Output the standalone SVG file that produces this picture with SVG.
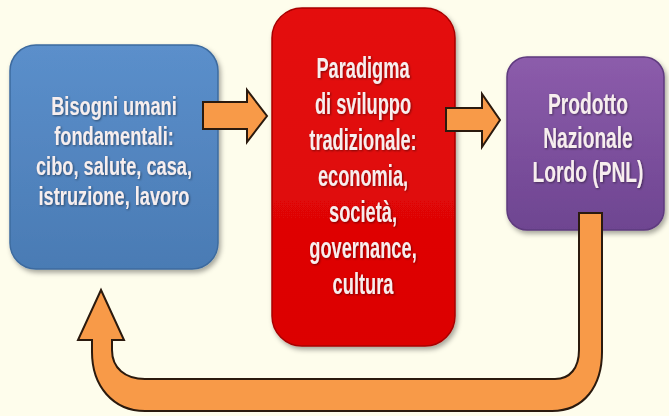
<svg xmlns="http://www.w3.org/2000/svg" width="669" height="416" viewBox="0 0 669 416">
<defs>
<style>
.t{font-family:"Liberation Sans",Arial,sans-serif;font-weight:bold;font-size:24px;text-anchor:middle;fill:#f7eeee}
.arr{fill:#f89a48;stroke:#2b1a0e;stroke-width:2;stroke-linejoin:miter}
</style>
<linearGradient id="gBlue" x1="0" y1="0" x2="0" y2="1"><stop offset="0" stop-color="#5b8fcb"/><stop offset="1" stop-color="#4a7bb4"/></linearGradient>
<linearGradient id="gRed" x1="0" y1="0" x2="0" y2="1"><stop offset="0" stop-color="#e41010"/><stop offset="1" stop-color="#dc0000"/></linearGradient>
<linearGradient id="gPur" x1="0" y1="0" x2="0" y2="1"><stop offset="0" stop-color="#8c5cab"/><stop offset="1" stop-color="#6e4591"/></linearGradient>
<filter id="sh" x="-10%" y="-10%" width="125%" height="125%"><feDropShadow dx="2" dy="3" stdDeviation="2.5" flood-color="#000" flood-opacity="0.35"/></filter>
<filter id="ts" x="-5%" y="-20%" width="110%" height="150%"><feDropShadow dx="1" dy="1" stdDeviation="0.8" flood-color="#000" flood-opacity="0.45"/></filter>
</defs>
<rect width="669" height="416" fill="#fefdec"/>
<g id="node-bisogni">
<rect x="10" y="45" width="208" height="224" rx="26" fill="url(#gBlue)" stroke="#3d6b9f" stroke-width="1.5" filter="url(#sh)"/>
<g filter="url(#ts)">
<text class="t" transform="translate(114,115) scale(0.76,1.08)">Bisogni umani</text>
<text class="t" transform="translate(114,145) scale(0.76,1.08)">fondamentali:</text>
<text class="t" transform="translate(114,175) scale(0.76,1.08)">cibo, salute, casa,</text>
<text class="t" transform="translate(114,205) scale(0.76,1.08)">istruzione, lavoro</text>
</g>
</g>
<g id="node-paradigma">
<rect x="272" y="8" width="183" height="338" rx="30" fill="url(#gRed)" stroke="#a80000" stroke-width="1.5" filter="url(#sh)"/>
<g filter="url(#ts)">
<text class="t" transform="translate(363,78) scale(0.76,1.25)">Paradigma</text>
<text class="t" transform="translate(363,114) scale(0.76,1.25)">di sviluppo</text>
<text class="t" transform="translate(363,150) scale(0.76,1.25)">tradizionale:</text>
<text class="t" transform="translate(363,186) scale(0.76,1.25)">economia,</text>
<text class="t" transform="translate(363,222) scale(0.76,1.25)">società,</text>
<text class="t" transform="translate(363,258) scale(0.76,1.25)">governance,</text>
<text class="t" transform="translate(363,294) scale(0.76,1.25)">cultura</text>
</g>
</g>
<g id="node-pnl">
<rect x="507" y="57" width="157" height="173" rx="20" fill="url(#gPur)" stroke="#5e3a7e" stroke-width="1.5" filter="url(#sh)"/>
<g filter="url(#ts)">
<text class="t" transform="translate(588,114) scale(0.8,1.25)">Prodotto</text>
<text class="t" transform="translate(588,148) scale(0.8,1.25)">Nazionale</text>
<text class="t" transform="translate(588,182) scale(0.8,1.25)">Lordo (PNL)</text>
</g>
</g>
<g id="connectors">
<polygon class="arr" points="203,102 247,102 247,90 267,116 247,142 247,129 203,129"/>
<polygon class="arr" points="446,108 482,108 482,94 500,120 482,147 482,131 446,131"/>
<path class="arr" d="M579 213 L602 213 L602 352 C602 386 584 411 552 411 L145 411 C113 411 92 386 92 352 L92 340 L78 340 L101 290 L124 340 L112 340 L112 350 C112 368 125 379 145 379 L555 379 C570 379 579 368 579 350 Z"/>
</g>
</svg>
